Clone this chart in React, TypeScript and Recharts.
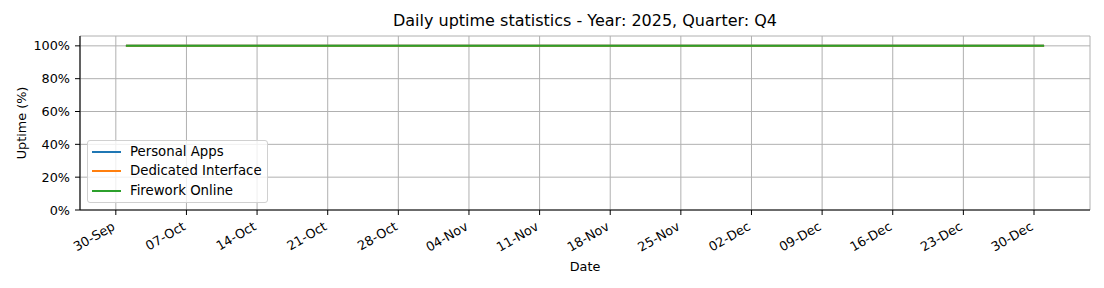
import React from "react";
import {
  LineChart,
  Line,
  XAxis,
  YAxis,
  CartesianGrid,
} from "recharts";

// day 0 = 01-Oct-2025, one point per day up to 31-Dec-2025
const startDate = new Date(2025, 9, 1);

const personalApps = [
  100, 100, 100, 100, 100, 100, 100, 100, 100, 100,
  100, 100, 100, 100, 100, 100, 100, 100, 100, 100,
  100, 100, 100, 100, 100, 100, 100, 100, 100, 100,
  100, 100, 100, 100, 100, 100, 100, 100, 100, 100,
  100, 100, 100, 100, 100, 100, 100, 100, 100, 100,
  100, 100, 100, 100, 100, 100, 100, 100, 100, 100,
  100, 100, 100, 100, 100, 100, 100, 100, 100, 100,
  100, 100, 100, 100, 100, 100, 100, 100, 100, 100,
  100, 100, 100, 100, 100, 100, 100, 100, 100, 100,
  100, 100,
];

const dedicatedInterface = [
  100, 100, 100, 100, 100, 100, 100, 100, 100, 100,
  100, 100, 100, 100, 100, 100, 100, 100, 100, 100,
  100, 100, 100, 100, 100, 100, 100, 100, 100, 100,
  100, 100, 100, 100, 100, 100, 100, 100, 100, 100,
  100, 100, 100, 100, 100, 100, 100, 100, 100, 100,
  100, 100, 100, 100, 100, 100, 100, 100, 100, 100,
  100, 100, 100, 100, 100, 100, 100, 100, 100, 100,
  100, 100, 100, 100, 100, 100, 100, 100, 100, 100,
  100, 100, 100, 100, 100, 100, 100, 100, 100, 100,
  100, 100,
];

const fireworkOnline = [
  100, 100, 100, 100, 100, 100, 100, 100, 100, 100,
  100, 100, 100, 100, 100, 100, 100, 100, 100, 100,
  100, 100, 100, 100, 100, 100, 100, 100, 100, 100,
  100, 100, 100, 100, 100, 100, 100, 100, 100, 100,
  100, 100, 100, 100, 100, 100, 100, 100, 100, 100,
  100, 100, 100, 100, 100, 100, 100, 100, 100, 100,
  100, 100, 100, 100, 100, 100, 100, 100, 100, 100,
  100, 100, 100, 100, 100, 100, 100, 100, 100, 100,
  100, 100, 100, 100, 100, 100, 100, 100, 100, 100,
  100, 100,
];

// weekly ticks, as day offsets from 01-Oct
const tickDays = [-1, 6, 13, 20, 27, 34, 41, 48, 55, 62, 69, 76, 83, 90];
const tickLabels = [
  "30-Sep", "07-Oct", "14-Oct", "21-Oct", "28-Oct", "04-Nov", "11-Nov",
  "18-Nov", "25-Nov", "02-Dec", "09-Dec", "16-Dec", "23-Dec", "30-Dec",
];
const yTicks = [0, 20, 40, 60, 80, 100];

const seriesNames = ["Personal Apps", "Dedicated Interface", "Firework Online"];
const colors = ["#1f77b4", "#ff7f0e", "#2ca02c"];

const data = personalApps.map((v, i) => {
  const d = new Date(startDate);
  d.setDate(d.getDate() + i);
  return {
    day: i,
    date: d.toISOString().slice(0, 10),
    personal: v,
    dedicated: dedicatedInterface[i],
    firework: fireworkOnline[i],
  };
});

const FONT = "'DejaVu Sans', sans-serif";
const TICK_FS = 12.8;

const XTick = (props: any) => {
  const { x, y, payload } = props;
  const idx = tickDays.indexOf(payload.value);
  const ay = y + 12;
  return (
    <text
      x={x}
      y={ay}
      textAnchor="end"
      fontSize={TICK_FS}
      fontFamily={FONT}
      fill="#000"
      transform={`rotate(-30, ${x}, ${ay})`}
    >
      {idx >= 0 ? tickLabels[idx] : ""}
    </text>
  );
};

const App: React.FC = () => {
  const span = personalApps.length - 1;
  const pad = span * 0.05;
  const xDomain = [-pad, span + pad];

  return (
    <div style={{ position: "absolute", left: 0, top: 0, width: 1104, height: 288, background: "#fff" }}>
      <LineChart
        width={1104}
        height={288}
        data={data}
        margin={{ top: 36, right: 14, bottom: 0, left: 0 }}
        style={{ fontFamily: FONT }}
      >
        <CartesianGrid stroke="#b0b0b0" strokeWidth={1} />
        <XAxis
          dataKey="day"
          type="number"
          domain={xDomain}
          ticks={tickDays}
          allowDataOverflow
          interval={0}
          height={78}
          tick={<XTick />}
          tickSize={5}
          stroke="#000"
          tickLine={{ stroke: "#000" }}
          axisLine={{ stroke: "#000", strokeWidth: 1.1 }}
          label={{ value: "Date", position: "insideBottom", offset: 17, fontSize: TICK_FS, fill: "#000", fontFamily: FONT }}
        />
        <XAxis
          xAxisId="top"
          orientation="top"
          type="number"
          domain={xDomain}
          height={0}
          tick={false}
          tickLine={false}
          axisLine={{ stroke: "#000", strokeWidth: 1.1 }}
        />
        <YAxis
          domain={[0, 106]}
          ticks={yTicks}
          width={80}
          tickSize={5}
          tickMargin={5}
          tickFormatter={(v: number) => `${v}%`}
          tick={{ fontSize: TICK_FS, fill: "#000", fontFamily: FONT }}
          tickLine={{ stroke: "#000" }}
          axisLine={{ stroke: "#000", strokeWidth: 1.1 }}
          allowDataOverflow
          label={{
            content: (p: any) => {
              const vb = p.viewBox;
              const cx = vb.x + 21;
              const cy = vb.y + vb.height / 2;
              return (
                <text
                  x={cx}
                  y={cy}
                  textAnchor="middle"
                  dominantBaseline="central"
                  fontSize={TICK_FS}
                  fontFamily={FONT}
                  fill="#000"
                  transform={`rotate(-90, ${cx}, ${cy})`}
                >
                  Uptime (%)
                </text>
              );
            },
          }}
        />
        <YAxis
          yAxisId="right"
          orientation="right"
          width={0}
          tick={false}
          tickLine={false}
          axisLine={{ stroke: "#000", strokeWidth: 1.1 }}
        />
        <Line dataKey="personal" name={seriesNames[0]} stroke={colors[0]} strokeWidth={2} dot={false} isAnimationActive={false} />
        <Line dataKey="dedicated" name={seriesNames[1]} stroke={colors[1]} strokeWidth={2} dot={false} isAnimationActive={false} />
        <Line dataKey="firework" name={seriesNames[2]} stroke={colors[2]} strokeWidth={2} dot={false} isAnimationActive={false} />
      </LineChart>

      <div
        style={{
          position: "absolute",
          left: 80,
          width: 1010,
          top: 10.5,
          textAlign: "center",
          fontFamily: FONT,
          fontSize: 16,
          lineHeight: "19px",
          color: "#000",
        }}
      >
        Daily uptime statistics - Year: 2025, Quarter: Q4
      </div>

      <div
        style={{
          position: "absolute",
          left: 87,
          top: 140,
          width: 179,
          height: 61,
          border: "1px solid #d0d0d0",
          borderRadius: 3,
          background: "rgba(255,255,255,0.8)",
          fontFamily: FONT,
          fontSize: 13.3,
          color: "#000",
        }}
      >
        {seriesNames.map((name, i) => (
          <div key={name} style={{ position: "absolute", left: 3, top: 2.5 + i * 19.5, height: 16, display: "flex", alignItems: "center" }}>
            <svg width={30} height={16} style={{ display: "block" }}>
              <line x1={1} x2={30} y1={8} y2={8} stroke={colors[i]} strokeWidth={2} />
            </svg>
            <span style={{ marginLeft: 9, lineHeight: "16px", whiteSpace: "nowrap" }}>{name}</span>
          </div>
        ))}
      </div>
    </div>
  );
};

export default App;
